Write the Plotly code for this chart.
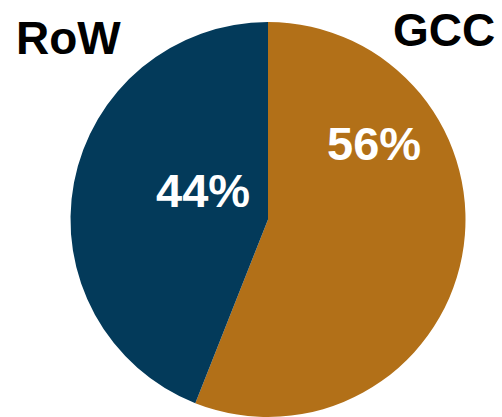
import plotly.graph_objects as go

# Share by region
regions = ["GCC", "RoW"]
shares = [56, 44]
colors = ["#B27018", "#033A5A"]

W, H = 502, 417
cx, top, r = 268, 22, 198
FONT = "Liberation Sans, Arial, sans-serif"

fig = go.Figure(
    go.Pie(
        labels=regions,
        values=shares,
        sort=False,
        direction="clockwise",
        rotation=0,
        marker=dict(colors=colors, line=dict(width=0)),
        textinfo="none",
        hoverinfo="skip",
        showlegend=False,
        domain=dict(
            x=[(cx - r) / W, (cx + r) / W],
            y=[0, 1 - top / H],
        ),
    )
)

# Percentage labels inside the slices (x centre, box top in px)
pct_pos = {"GCC": (373.5, 115), "RoW": (202.5, 162)}
for name, val in zip(regions, shares):
    x, y = pct_pos[name]
    fig.add_annotation(text=f"<b>{val}%</b>", x=x / W, y=1 - y / H, xref="paper", yref="paper",
                       xanchor="center", yanchor="top", showarrow=False,
                       font=dict(family=FONT, size=47, color="white"))

# Region names above the pie
name_pos = {"RoW": (68, 10), "GCC": (443.5, 2)}
for name in regions:
    x, y = name_pos[name]
    fig.add_annotation(text=f"<b>{name}</b>", x=x / W, y=1 - y / H, xref="paper", yref="paper",
                       xanchor="center", yanchor="top", showarrow=False,
                       font=dict(family=FONT, size=46, color="black"))

fig.update_layout(
    width=W, height=H,
    margin=dict(l=0, r=0, t=0, b=0),
    paper_bgcolor="white",
    plot_bgcolor="white",
)

fig.write_html("out.html")
